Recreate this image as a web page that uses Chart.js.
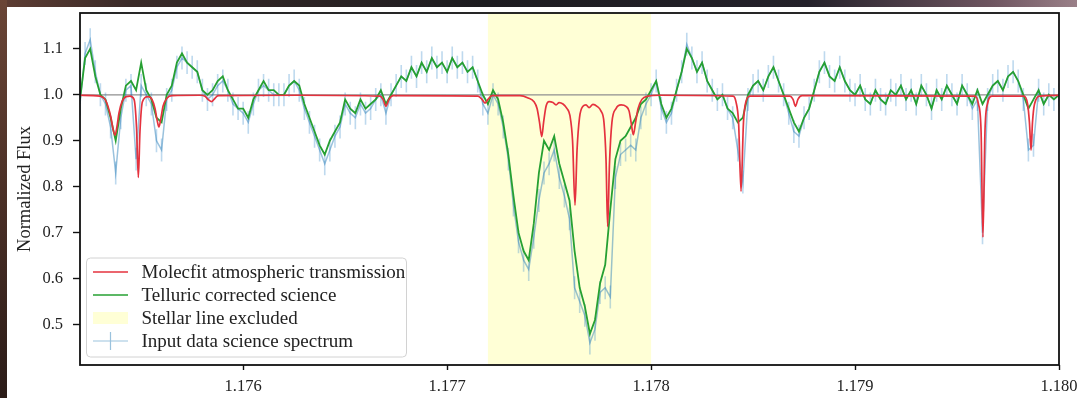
<!DOCTYPE html>
<html><head><meta charset="utf-8">
<script src="https://cdn.jsdelivr.net/npm/chart.js@4.4.1/dist/chart.umd.min.js"></script>
<style>
html,body{margin:0;padding:0;width:1077px;height:398px;overflow:hidden;}
body{background:linear-gradient(to right,#5e3d33 0%,#3a2a28 12%,#1d1c20 45%,#24212a 75%,#6e5560 92%,#9a8088 100%);position:relative;}
#strip{position:absolute;left:0;top:0;width:7px;height:398px;background:linear-gradient(to bottom,#6a4536,#4a2f26 50%,#2b1c18);}
#panel{position:absolute;left:7px;top:7px;width:1070px;height:391px;background:#fff;}
canvas{display:block;}
</style></head>
<body><div id="strip"></div><div id="panel"><canvas id="c" width="1070" height="391"></canvas></div>
<script>
// ---------- data ----------
const WL_START = 1.1752, WL_STEP = 0.000025;   // sampling grid of the science spectrum (µm)
const greenFlux = [
 0.99,1.08,1.10,1.04,1.00,0.99,0.95,0.90,0.97,1.02,
 1.03,1.01,1.07,1.01,0.99,0.95,0.94,1.00,1.02,1.07,
 1.09,1.07,1.06,1.05,1.01,1.00,1.01,1.03,1.04,1.01,
 0.99,0.97,0.97,0.95,0.99,1.01,1.03,1.01,1.01,1.00,
 1.00,1.02,1.03,1.02,0.98,0.95,0.92,0.89,0.87,0.90,
 0.92,0.94,0.99,0.97,0.96,0.99,0.97,0.98,0.99,1.01,
 0.98,1.00,1.02,1.04,1.03,1.06,1.04,1.07,1.05,1.08,
 1.06,1.07,1.05,1.08,1.06,1.07,1.05,1.06,1.03,1.00,
 0.98,1.01,0.99,0.94,0.87,0.78,0.70,0.66,0.64,0.72,
 0.83,0.90,0.88,0.91,0.85,0.81,0.77,0.66,0.58,0.54,
 0.48,0.51,0.59,0.63,0.75,0.86,0.90,0.91,0.93,0.95,
 0.98,0.99,1.01,1.03,0.98,0.95,0.97,1.01,1.05,1.10,
 1.08,1.05,1.07,1.03,1.01,0.99,1.00,0.97,0.96,0.94,
 0.95,1.00,1.02,1.03,1.01,1.04,1.06,1.03,1.00,0.97,
 0.94,0.92,0.95,0.97,1.01,1.05,1.07,1.04,1.03,1.06,
 1.03,1.01,1.00,1.02,0.99,0.98,1.01,0.99,0.98,1.01,
 1.00,1.02,0.99,1.01,0.98,1.02,1.00,0.97,1.01,0.99,
 1.02,1.00,0.98,1.02,1.00,0.98,1.01,0.98,1.00,1.02,
 1.03,1.01,1.04,1.05,1.03,1.00,0.97,0.99,1.01,0.98,
 1.00,0.99,1.00
];
const blueFlux = [
 0.98,1.09,1.12,1.05,1.00,0.98,0.93,0.83,0.95,1.01,
 1.02,0.86,1.02,1.00,0.98,0.90,0.88,0.99,1.01,1.06,
 1.08,1.07,1.06,1.05,1.01,0.99,1.00,1.02,1.03,1.01,
 0.98,0.97,0.96,0.94,0.98,1.01,1.02,1.01,1.00,1.00,
 1.00,1.02,1.03,1.01,0.97,0.94,0.91,0.88,0.85,0.88,
 0.91,0.93,0.98,0.96,0.95,0.98,0.96,0.97,0.99,1.00,
 0.96,1.00,1.02,1.04,1.03,1.06,1.04,1.07,1.05,1.08,
 1.06,1.07,1.05,1.08,1.06,1.07,1.05,1.06,1.03,0.98,
 0.96,1.00,0.98,0.93,0.86,0.76,0.68,0.64,0.62,0.69,
 0.77,0.83,0.85,0.88,0.82,0.78,0.73,0.58,0.55,0.52,
 0.46,0.49,0.57,0.58,0.56,0.82,0.87,0.88,0.89,0.88,
 0.95,0.98,1.00,1.03,0.97,0.94,0.96,1.01,1.05,1.11,
 1.08,1.05,1.07,1.03,1.01,0.99,1.00,0.97,0.95,0.88,
 0.81,0.99,1.02,1.03,1.01,1.04,1.06,1.03,1.00,0.96,
 0.92,0.91,0.95,0.97,1.01,1.05,1.07,1.04,1.03,1.06,
 1.03,1.01,1.00,1.02,0.99,0.98,1.01,0.99,0.98,1.01,
 1.00,1.02,0.99,1.01,0.98,1.02,1.00,0.97,1.01,0.99,
 1.02,1.00,0.98,1.02,1.00,0.97,0.99,0.70,0.99,1.02,
 1.03,1.01,1.04,1.05,1.03,0.99,0.88,0.89,1.01,0.98,
 1.00,0.99,1.00
];
const BLUE_ERR = 0.025;
const redWavelength = [
 1.175200,1.175298,1.175323,1.175337,1.175352,1.175362,1.175372,1.175381,1.175391,1.175406,
 1.175426,1.175445,1.175465,1.175477,1.175486,1.175494,1.175506,1.175533,1.175553,1.175568,
 1.175578,1.175587,1.175597,1.175607,1.175627,1.175651,1.175788,1.175813,1.175828,1.175846,
 1.175857,1.175877,1.176279,1.176671,1.176686,1.176700,1.176715,1.176735,1.177151,1.177171,
 1.177186,1.177200,1.177220,1.177357,1.177397,1.177426,1.177441,1.177453,1.177464,1.177473,
 1.177485,1.177500,1.177519,1.177534,1.177549,1.177568,1.177588,1.177602,1.177615,1.177627,
 1.177637,1.177649,1.177666,1.177681,1.177696,1.177715,1.177735,1.177754,1.177769,1.177779,
 1.177787,1.177796,1.177808,1.177828,1.177853,1.177877,1.177892,1.177902,1.177913,1.177924,
 1.177936,1.177955,1.177985,1.178044,1.178402,1.178416,1.178429,1.178441,1.178453,1.178465,
 1.178485,1.178681,1.178696,1.178708,1.178720,1.178740,1.179588,1.179605,1.179618,1.179627,
 1.179637,1.179649,1.179672,1.179828,1.179846,1.179855,1.179863,1.179870,1.179880,1.179907,
 1.180000
];
const redFlux = [
 0.999,0.997,0.990,0.975,0.950,0.925,0.912,0.930,0.960,0.985,
 0.996,0.997,0.990,0.930,0.820,0.920,0.985,0.996,0.990,0.970,
 0.945,0.930,0.950,0.975,0.993,0.998,0.999,0.997,0.990,0.985,
 0.990,0.998,0.999,0.997,0.990,0.975,0.990,0.998,0.997,0.990,
 0.982,0.990,0.998,0.998,0.993,0.985,0.970,0.940,0.909,0.940,
 0.975,0.985,0.983,0.978,0.983,0.980,0.970,0.955,0.900,0.760,
 0.880,0.950,0.975,0.978,0.972,0.979,0.975,0.965,0.940,0.860,
 0.713,0.850,0.940,0.970,0.978,0.975,0.965,0.940,0.913,0.940,
 0.970,0.990,0.997,0.999,0.997,0.985,0.940,0.790,0.940,0.985,
 0.997,0.997,0.990,0.975,0.990,0.998,0.997,0.980,0.920,0.690,
 0.920,0.980,0.997,0.997,0.980,0.940,0.880,0.940,0.980,0.997,
 0.999
];
const xTicks = [1.176, 1.177, 1.178, 1.179, 1.180];
const yTicks = [0.5, 0.6, 0.7, 0.8, 0.9, 1.0, 1.1];
const X_MIN = 1.1752, X_MAX = 1.1800, Y_MIN = 0.412, Y_MAX = 1.178;
const EXCLUDED = [1.1772, 1.1780];
const REF_LEVEL = 1.0;
const legendLabels = ['Molecfit atmospheric transmission','Telluric corrected science','Stellar line excluded','Input data science spectrum'];
const yLabel = 'Normalized Flux';

// ---------- styling ----------
const FONT = "'Liberation Serif', 'Times New Roman', serif";
const TEXT = '#222';
const RED = '#e5323e', GREEN = '#26a032', BLUE = 'rgba(31,119,180,0.45)', BLUE_ERRC = 'rgba(40,130,200,0.30)';
const YELLOW = 'rgba(255,255,0,0.16)';
Chart.defaults.font.family = FONT;
Chart.defaults.color = TEXT;

const grid = greenFlux.map((_, i) => WL_START + i * WL_STEP);

const backPlugin = {
  id: 'back',
  beforeDatasetsDraw(chart) {
    const {ctx, chartArea: a, scales: {x, y}} = chart;
    ctx.save();
    ctx.beginPath(); ctx.rect(a.left, a.top, a.right - a.left, a.bottom - a.top); ctx.clip();
    const x0 = x.getPixelForValue(EXCLUDED[0]), x1 = x.getPixelForValue(EXCLUDED[1]);
    ctx.fillStyle = YELLOW;
    ctx.fillRect(x0, a.top, x1 - x0, a.bottom - a.top);
    const yr = y.getPixelForValue(REF_LEVEL);
    ctx.strokeStyle = '#8f8f8f'; ctx.lineWidth = 1.2;
    ctx.beginPath(); ctx.moveTo(a.left, yr); ctx.lineTo(a.right, yr); ctx.stroke();
    // error bars of the input spectrum
    ctx.strokeStyle = BLUE_ERRC; ctx.lineWidth = 1.6;
    ctx.beginPath();
    grid.forEach((wl, i) => {
      const px = x.getPixelForValue(wl);
      ctx.moveTo(px, y.getPixelForValue(blueFlux[i] + BLUE_ERR));
      ctx.lineTo(px, y.getPixelForValue(blueFlux[i] - BLUE_ERR));
    });
    ctx.stroke();
    ctx.restore();
  }
};

const framePlugin = {
  id: 'frame',
  afterDraw(chart) {
    const {ctx, chartArea: a} = chart;
    ctx.save();
    ctx.strokeStyle = '#111'; ctx.lineWidth = 1.8;
    ctx.strokeRect(a.left, a.top, a.right - a.left, a.bottom - a.top);
    // legend
    const bx = a.left + 6.5, by = 251, bw = 320, bh = 99, r = 4;
    ctx.fillStyle = 'rgba(255,255,255,0.85)';
    ctx.strokeStyle = '#d2d2d2'; ctx.lineWidth = 1;
    ctx.beginPath();
    ctx.moveTo(bx + r, by); ctx.lineTo(bx + bw - r, by); ctx.quadraticCurveTo(bx + bw, by, bx + bw, by + r);
    ctx.lineTo(bx + bw, by + bh - r); ctx.quadraticCurveTo(bx + bw, by + bh, bx + bw - r, by + bh);
    ctx.lineTo(bx + r, by + bh); ctx.quadraticCurveTo(bx, by + bh, bx, by + bh - r);
    ctx.lineTo(bx, by + r); ctx.quadraticCurveTo(bx, by, bx + r, by);
    ctx.closePath(); ctx.fill(); ctx.stroke();
    const rows = [265, 288, 311, 334];
    const sx0 = bx + 6.5, sx1 = bx + 41.5, tx = bx + 55;
    ctx.lineWidth = 1.6; ctx.strokeStyle = RED;
    ctx.beginPath(); ctx.moveTo(sx0, rows[0]); ctx.lineTo(sx1, rows[0]); ctx.stroke();
    ctx.strokeStyle = GREEN;
    ctx.beginPath(); ctx.moveTo(sx0, rows[1]); ctx.lineTo(sx1, rows[1]); ctx.stroke();
    ctx.fillStyle = YELLOW; ctx.fillRect(sx0, rows[2] - 6, sx1 - sx0, 12);
    ctx.strokeStyle = BLUE; ctx.lineWidth = 1.2;
    ctx.beginPath(); ctx.moveTo(sx0, rows[3]); ctx.lineTo(sx1, rows[3]);
    ctx.moveTo((sx0 + sx1) / 2, rows[3] - 9); ctx.lineTo((sx0 + sx1) / 2, rows[3] + 9); ctx.stroke();
    ctx.fillStyle = TEXT; ctx.font = "19px " + FONT; ctx.textBaseline = 'middle'; ctx.textAlign = 'left';
    legendLabels.forEach((t, i) => ctx.fillText(t, tx, rows[i] + 1));
    ctx.restore();
  }
};

new Chart(document.getElementById('c'), {
  type: 'line',
  data: { datasets: [
    { label: legendLabels[0], data: redWavelength.map((x, i) => ({x, y: redFlux[i]})),
      borderColor: RED, borderWidth: 1.7, pointRadius: 0, cubicInterpolationMode: 'monotone', order: 1 },
    { label: legendLabels[1], data: grid.map((x, i) => ({x, y: greenFlux[i]})),
      borderColor: GREEN, borderWidth: 1.8, pointRadius: 0, order: 2 },
    { label: legendLabels[3], data: grid.map((x, i) => ({x, y: blueFlux[i]})),
      borderColor: BLUE, borderWidth: 1.5, pointRadius: 0, order: 3 }
  ]},
  options: {
    responsive: false, animation: false, devicePixelRatio: 1,
    layout: { padding: { top: 6, right: 18, bottom: 0, left: 0 } },
    plugins: { legend: { display: false }, tooltip: { enabled: false } },
    scales: {
      x: {
        type: 'linear', min: X_MIN, max: X_MAX,
        afterBuildTicks: s => { s.ticks = xTicks.map(v => ({value: v})); },
        afterFit: s => { s.height = 33; s.paddingLeft = 0; s.paddingRight = 0; },
        ticks: { callback: v => Number(v).toFixed(3), font: { size: 16.5 }, padding: 7, maxRotation: 0, autoSkip: false, color: TEXT },
        grid: { drawOnChartArea: false, drawTicks: true, tickLength: 5, color: '#111', tickWidth: 1.4 },
        border: { display: false }
      },
      y: {
        type: 'linear', min: Y_MIN, max: Y_MAX,
        afterBuildTicks: s => { s.ticks = yTicks.map(v => ({value: v})); },
        afterFit: s => { s.width = 73; s.paddingTop = 0; s.paddingBottom = 0; },
        ticks: { callback: v => Number(v).toFixed(1), font: { size: 16.5 }, padding: 10, autoSkip: false, color: TEXT },
        grid: { drawOnChartArea: false, drawTicks: true, tickLength: 7, color: '#111', tickWidth: 1.4 },
        border: { display: false },
        title: { display: true, text: yLabel, font: { size: 18.5 }, padding: { top: 7, bottom: 0 }, color: TEXT }
      }
    }
  },
  plugins: [backPlugin, framePlugin]
});
</script>
</body></html>
